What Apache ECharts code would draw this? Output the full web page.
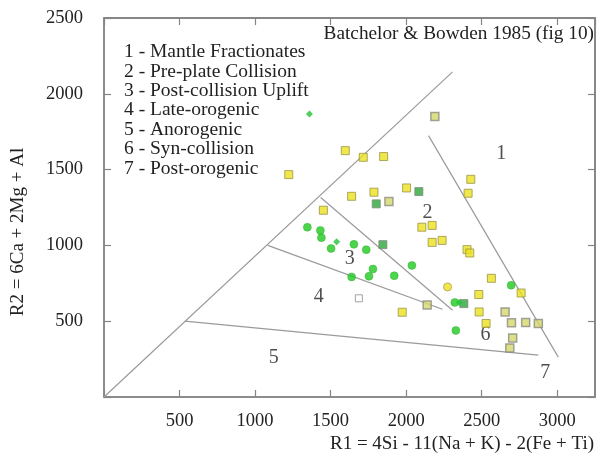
<!DOCTYPE html>
<html>
<head>
<meta charset="utf-8">
<script src="https://cdn.jsdelivr.net/npm/echarts@6/dist/echarts.min.js"></script>
<style>html,body{margin:0;padding:0;background:#fff}#c{width:598px;height:457px}</style>
</head>
<body>
<div id="c"></div>
<script>
// ---- data ----
var xTicks = [500, 1000, 1500, 2000, 2500, 3000];
var yTicks = [500, 1000, 1500, 2000, 2500];
var titleText = 'Batchelor & Bowden 1985 (fig 10)';
var xName = 'R1 = 4Si - 11(Na + K) - 2(Fe + Ti)';
var yName = 'R2 = 6Ca + 2Mg + Al';
var legendLines = ['1 - Mantle Fractionates','2 - Pre-plate Collision','3 - Post-collision Uplift','4 - Late-orogenic','5 - Anorogenic','6 - Syn-collision','7 - Post-orogenic'];

// plot frame (axis extents)
var xRange = [0, 3250];
var yRange = [0, 2500];

// field boundaries (endpoints)
var boundaryA = [[0, 0], [2307, 2145]];
var boundaryB = [[2148, 1724], [3007, 263]];
var boundaryC = [[1434, 1316], [2307, 572]];
var boundaryD = [[1084, 1000], [2240, 579]];
var boundaryE = [[535, 500], [2875, 276]];

// region number labels
var regionNames = ['1', '2', '3', '4', '5', '6', '7'];
var regionPos = [[2630, 1605], [2141, 1217], [1626, 914], [1421, 658], [1124, 257], [2525, 408], [2921, 158]];

// samples
var yellowSquares = [[1597,1625],[1716,1581],[1851,1586],[1223,1467],[1639,1324],[1787,1351],[2003,1379],[2428,1436],[2410,1344],[1452,1232],[2104,1120],[2172,1132],[2172,1020],[2238,1033],[2403,972],[2421,950],[2564,783],[2761,686],[2481,676],[2483,561],[2529,485],[1974,559]];
var greySquares = [[2190,1851],[1886,1289],[2139,607],[2655,561],[2697,489],[2791,491],[2875,485],[2705,390],[2686,324]];
var openSquares = [[1687,651]];
var greenSquares = [[2084,1355],[1802,1274],[1846,1005],[2382,616]];
var greenCircles = [[1346,1120],[1432,1099],[1439,1051],[1503,980],[1654,1007],[1736,972],[1780,844],[1639,792],[1754,796],[1921,800],[2038,868],[2695,737],[2329,439],[2322,624]];
var greenSmall = [[1360,1866],[1540,1024],[2352,623]];
var yellowCircles = [[2274,726]];

// ---- chart ----
var FONT = "'Liberation Serif','Times New Roman',serif";
var axisCol = '#858585';
var chart = echarts.init(document.getElementById('c'));
function lineSeries(d) {
  return {type: 'line', data: d, symbol: 'none', silent: true,
    lineStyle: {color: '#9a9a9a', width: 1.2}, z: 1, animation: false};
}
function xAx(pos, show) {
  return {type: 'value', gridIndex: 0, position: pos, min: xRange[0], max: xRange[1], interval: 500,
    axisLine: {show: true, onZero: false, lineStyle: {color: axisCol, width: 1.5}},
    axisTick: {show: true, inside: true, length: 7, lineStyle: {color: axisCol, width: 1.2}},
    splitLine: {show: false},
    axisLabel: {show: show, showMaxLabel: false, margin: 15, fontFamily: FONT, fontSize: 18.5, color: '#222',
      formatter: function (v) { return xTicks.indexOf(v) >= 0 ? String(v) : ''; }}};
}
function yAx(pos, show) {
  return {type: 'value', gridIndex: 0, position: pos, min: yRange[0], max: yRange[1], interval: 500,
    axisLine: {show: true, onZero: false, lineStyle: {color: axisCol, width: 1.5}},
    axisTick: {show: true, inside: true, length: 7, lineStyle: {color: axisCol, width: 1.2}},
    splitLine: {show: false},
    axisLabel: {show: show, margin: 21, fontFamily: FONT, fontSize: 18.5, color: '#222',
      formatter: function (v) { return yTicks.indexOf(v) >= 0 ? String(v) : ''; }}};
}
var frame = [[xRange[0], yRange[1]], [xRange[1], yRange[1]], [xRange[1], yRange[0]]];
var option = {
  animation: false,
  grid: {left: 104, right: 3, top: 18, bottom: 60, show: true, borderColor: axisCol, borderWidth: 1.5},
  xAxis: [xAx('bottom', true), xAx('top', false)],
  yAxis: [yAx('left', true), yAx('right', false)],
  series: [
    {type: 'line', data: frame, symbol: 'none', silent: true, clip: false,
      lineStyle: {color: axisCol, width: 1.5}, z: 2},
    lineSeries(boundaryA), lineSeries(boundaryB), lineSeries(boundaryC), lineSeries(boundaryD), lineSeries(boundaryE),
    {type: 'scatter', xAxisIndex: 1, yAxisIndex: 1,
      data: regionPos.map(function (p, i) { return {value: p, name: regionNames[i]}; }),
      symbolSize: 0, silent: true,
      label: {show: true, position: 'inside', formatter: '{b}', fontFamily: FONT, fontSize: 20, color: '#222'}},
    {type: 'scatter', data: yellowSquares, symbol: 'rect', symbolSize: 8, z: 5,
      itemStyle: {color: '#ece21e', borderColor: '#9a9448', borderWidth: 1}},
    {type: 'scatter', data: greySquares, symbol: 'rect', symbolSize: 8, z: 5,
      itemStyle: {color: '#d6d86a', borderColor: '#8c8c84', borderWidth: 1.5}},
    {type: 'scatter', data: openSquares, symbol: 'rect', symbolSize: 7, z: 5,
      itemStyle: {color: '#ffffff', borderColor: '#8c8c8c', borderWidth: 1}},
    {type: 'scatter', data: greenSquares, symbol: 'rect', symbolSize: 8, z: 5,
      itemStyle: {color: '#2ea63a', borderColor: '#7c8c7c', borderWidth: 1}},
    {type: 'scatter', data: greenCircles, symbol: 'circle', symbolSize: 8, z: 5,
      itemStyle: {color: '#1fcb1f', borderColor: '#2aa82a', borderWidth: 0.5}},
    {type: 'scatter', data: greenSmall, symbol: 'diamond', symbolSize: 7, z: 5,
      itemStyle: {color: '#22c33a'}},
    {type: 'scatter', data: yellowCircles, symbol: 'circle', symbolSize: 8, z: 5,
      itemStyle: {color: '#ece21e', borderColor: '#b0a040', borderWidth: 1}}
  ],
  graphic: [
    {type: 'text', left: 124, top: 42, silent: true,
      style: {text: legendLines.join('\n'), font: '19.5px ' + FONT, lineHeight: 19.4, fill: '#222'}},
    {type: 'text', right: 4, top: 24, silent: true,
      style: {text: titleText, font: '19.3px ' + FONT, fill: '#222'}},
    {type: 'text', right: 4, top: 435, silent: true,
      style: {text: xName, font: '19px ' + FONT, fill: '#222'}},
    {type: 'text', x: 18, y: 232, rotation: Math.PI / 2, silent: true,
      style: {text: yName, font: '19px ' + FONT, fill: '#222', align: 'center', verticalAlign: 'middle'}}
  ]
};
chart.setOption(option);
</script>
</body>
</html>
